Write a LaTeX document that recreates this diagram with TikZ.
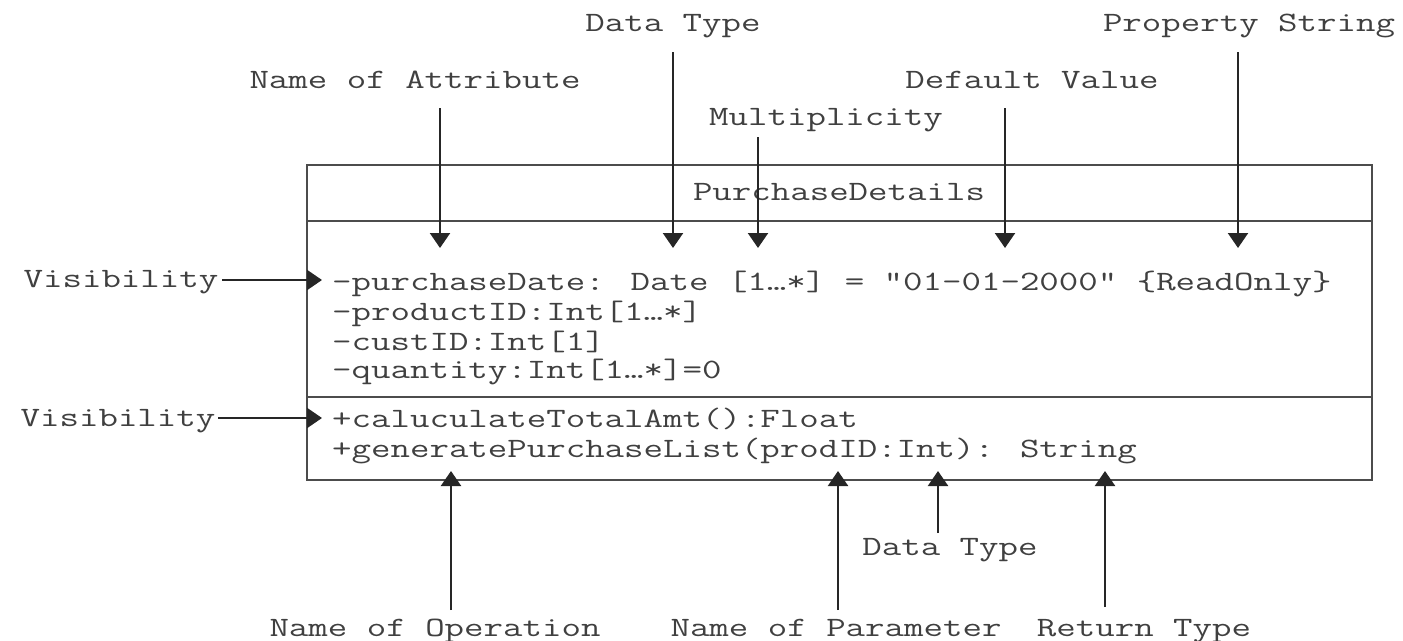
\documentclass[tikz,border=0pt]{standalone}
\usepackage{fontspec}
\usetikzlibrary{arrows.meta}
\newcommand\widetxt[1]{\scalebox{1.35}[1]{#1}}
\begin{document}
\begin{tikzpicture}[x=1pt,y=-1pt,
  txt/.style={font=\fontsize{28}{28}\selectfont\ttfamily, text=black!75, inner sep=0pt, anchor=base},
  rowtxt/.style={txt, anchor=base west},
  frame/.style={draw=black!70, line width=2pt},
  pointer/.style={draw=black!85, line width=2.2pt, -{Triangle[width=20pt,length=15pt]}}]
\useasboundingbox (0,0) rectangle (1403,640);

% class box
\node (cls) [frame, rectangle, inner sep=0pt, minimum width=1065pt, minimum height=315pt, anchor=north west] at (306,164) {};
\draw[frame] ([yshift=-57pt]cls.north west) -- ([yshift=-57pt]cls.north east);
\draw[frame] ([yshift=84pt]cls.south west) -- ([yshift=84pt]cls.south east);

\node (title) [txt] at (839,200) {\widetxt{PurchaseDetails}};
\node (r1) [rowtxt] at (332,290) {\widetxt{-purchaseDate: Date [1…*] = "01-01-2000" \{ReadOnly\}}};
\node (r2) [rowtxt] at (332,320) {\widetxt{-productID:Int[1…*]}};
\node (r3) [rowtxt] at (332,350) {\widetxt{-custID:Int[1]}};
\node (r4) [rowtxt] at (332,378) {\widetxt{-quantity:Int[1…*]=0}};
\node (o1) [rowtxt] at (332,427) {\widetxt{+caluculateTotalAmt():Float}};
\node (o2) [rowtxt] at (332,457) {\widetxt{+generatePurchaseList(prodID:Int): String}};

% top labels
\node (ldt) [txt] at (673,31) {\widetxt{Data Type}};
\node (lps) [txt] at (1249,31) {\widetxt{Property String}};
\node (lna) [txt] at (415,88) {\widetxt{Name of Attribute}};
\node (ldv) [txt] at (1032,88) {\widetxt{Default Value}};
\node (lmu) [txt] at (826,125) {\widetxt{Multiplicity}};
% left labels
\node (lv1) [txt] at (121,287) {\widetxt{Visibility}};
\node (lv2) [txt] at (118,426) {\widetxt{Visibility}};
% bottom labels
\node (ldt2) [txt] at (950,555) {\widetxt{Data Type}};
\node (lno) [txt] at (435,636) {\widetxt{Name of Operation}};
\node (lnp) [txt] at (836,636) {\widetxt{Name of Parameter}};
\node (lrt) [txt] at (1144,636) {\widetxt{Return Type}};

% arrow coordinates
\coordinate (s1) at (440,108);  \coordinate (e1) at (440,248);
\coordinate (s2) at (673,52);   \coordinate (e2) at (673,248);
\coordinate (s3) at (758,137);  \coordinate (e3) at (758,248);
\coordinate (s4) at (1005,108); \coordinate (e4) at (1005,248);
\coordinate (s5) at (1238,52);  \coordinate (e5) at (1238,248);
\coordinate (s6) at (222,280);  \coordinate (e6) at (322,280);
\coordinate (s7) at (218,418);  \coordinate (e7) at (322,418);
\coordinate (s8) at (451,610);  \coordinate (e8) at (451,471);
\coordinate (s9) at (838,610);  \coordinate (e9) at (838,471);
\coordinate (s10) at (938,533); \coordinate (e10) at (938,471);
\coordinate (s11) at (1105,607); \coordinate (e11) at (1105,471);

\foreach \i in {1,...,11} { \draw[pointer] (s\i) -- (e\i); }
\end{tikzpicture}
\end{document}
